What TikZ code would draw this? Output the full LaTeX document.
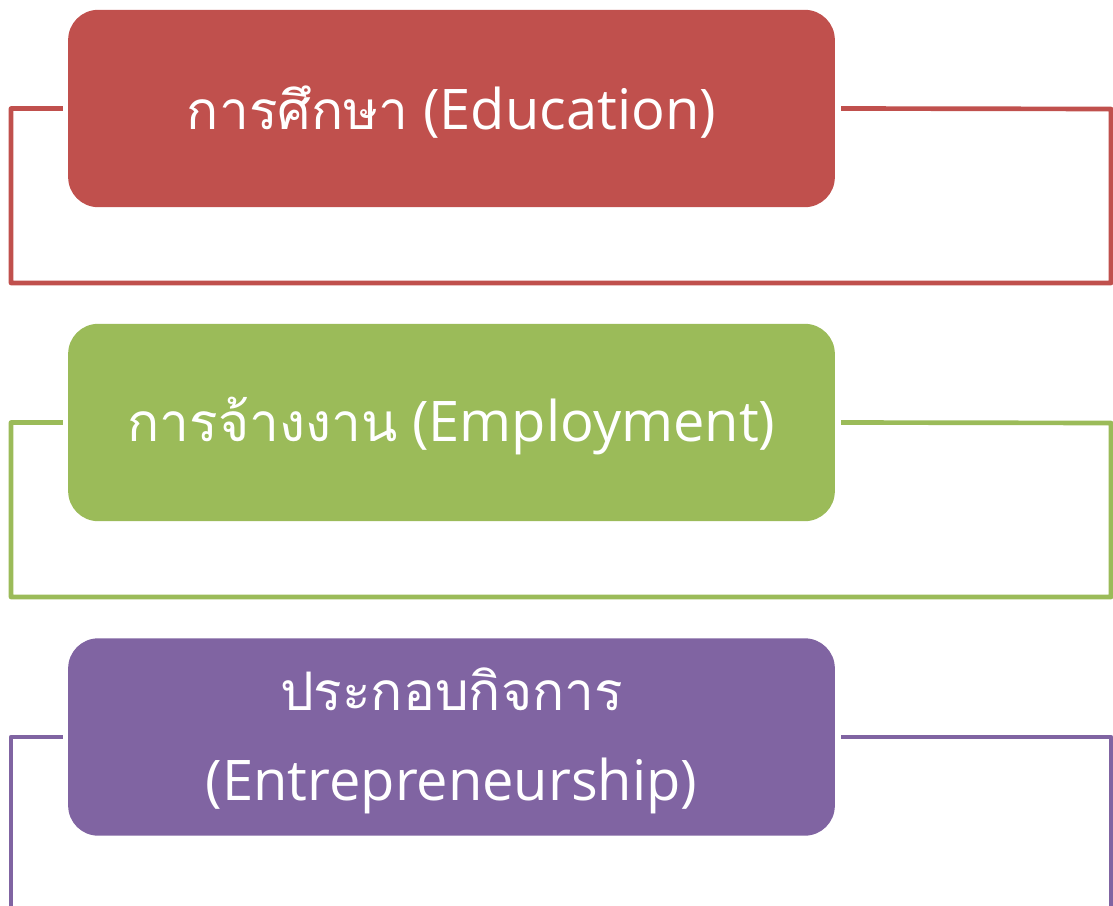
\documentclass[tikz,border=0pt]{standalone}
\usepackage{fontspec}
\usepackage{xcolor}
\usepackage{tikz}
\setmainfont{Open Sans}
\newfontfamily\thaifont[Script=Thai, Scale=0.95]{Loma}
\definecolor{eduRed}{HTML}{C0504D}
\definecolor{empGreen}{HTML}{9BBB59}
\definecolor{entPurple}{HTML}{8064A2}
\newcommand{\dropline}[1]{\raisebox{-3pt}[\height][\depth]{#1}}
\tikzset{
  topic/.style = {rounded corners = 22.5pt, minimum width = 575pt, minimum height = 148pt,
    text = white, align = center, font = \fontsize{42}{67.5}\selectfont},
  frame/.style = {line width = 3.5pt, line join = round}
}

\begin{document}
\begin{tikzpicture}[x = 0.75pt, y = -0.75pt]
			\useasboundingbox (0,0) rectangle (1113,906);
			
			\node[topic, fill = eduRed] (edu) at (451.5,108.5) {\dropline{{\thaifont การศึกษา} (Education)}};
			\node[topic, fill = empGreen] (emp) at (451.5,422.5) {\dropline{{\thaifont การจ้างงาน} (Employment)}};
			\node[topic, fill = entPurple] (ent) at (451.5,737) {\dropline{\thaifont ประกอบกิจการ}\\\dropline{(Entrepreneurship)}};
			
			\coordinate (eduL) at (11,283);
			\coordinate (eduR) at (1111,109);
			\coordinate (empL) at (11,597);
			\coordinate (empR) at (1111,423);
			\coordinate (entL) at (11,912);
			\coordinate (entR) at (1111,737);
			
			\draw[frame, eduRed] ([xshift = -3.75pt]edu.west) -| (eduL) -| (eduR) -- ([xshift = 4.5pt]edu.east);
			\draw[frame, empGreen] ([xshift = -3.75pt]emp.west) -| (empL) -| (empR) -- ([xshift = 4.5pt]emp.east);
			\draw[frame, entPurple] ([xshift = -3.75pt]ent.west) -| (entL) -| (entR) -- ([xshift = 4.5pt]ent.east);
			
			%	\draw[frame] (edu) -- (emp);
			
\end{tikzpicture}
\end{document}
